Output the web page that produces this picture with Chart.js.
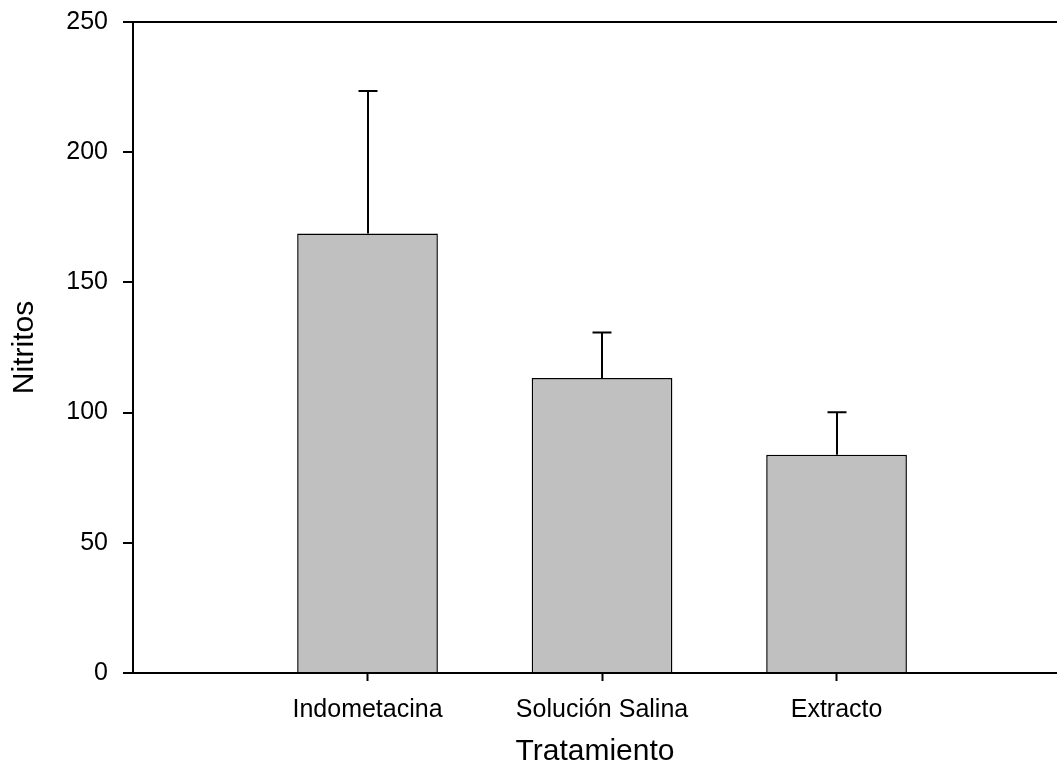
<!DOCTYPE html>
<html>
<head>
<meta charset="utf-8">
<title>Nitritos por tratamiento</title>
<script src="https://cdn.jsdelivr.net/npm/chart.js@4.4.1/dist/chart.umd.min.js"></script>
<style>
  html, body { margin: 0; padding: 0; background: #fff; overflow: hidden; }
  #wrap { width: 1057px; height: 777px; }
</style>
</head>
<body>
<div id="wrap"><canvas id="chart" width="1057" height="777"></canvas></div>
<script>
// data
const categories = ['Indometacina', 'Solución Salina', 'Extracto'];
const positions = [1, 2, 3];
const nitritos = [168.8, 113.3, 83.8];
const errores = [54.7, 17.5, 16.3];
const yTicks = [0, 50, 100, 150, 200, 250];

const FONT = '"Liberation Sans", Arial, Helvetica, sans-serif';

// draws the upper error bars (line + cap) over each bar
const errorBars = {
  id: 'errorBars',
  afterDatasetsDraw(chart) {
    const ctx = chart.ctx;
    const y = chart.scales.y;
    const meta = chart.getDatasetMeta(0);
    ctx.save();
    ctx.strokeStyle = '#000';
    ctx.lineWidth = 2;
    meta.data.forEach((bar, i) => {
      const top = y.getPixelForValue(nitritos[i] + errores[i]);
      const x = Math.round(bar.x);
      ctx.beginPath();
      ctx.moveTo(x, bar.y);
      ctx.lineTo(x, top);
      ctx.moveTo(x - 9.5, top);
      ctx.lineTo(x + 9.5, top);
      ctx.stroke();
    });
    ctx.restore();
  }
};

new Chart(document.getElementById('chart'), {
  type: 'bar',
  data: {
    datasets: [{
      data: positions.map((p, i) => ({ x: p, y: nitritos[i] })),
      backgroundColor: '#c0c0c0',
      borderColor: '#000',
      borderWidth: 1.5,
      barPercentage: 0.6,
      categoryPercentage: 1
    }]
  },
  options: {
    responsive: false,
    animation: false,
    layout: { padding: { top: 22, right: 0, bottom: 0, left: 0 } },
    plugins: {
      legend: { display: false },
      tooltip: { enabled: false }
    },
    scales: {
      x: {
        type: 'linear',
        offset: false,
        min: 0,
        max: 3.94,
        afterBuildTicks: (scale) => { scale.ticks = positions.map(v => ({ value: v })); },
        afterFit: (scale) => { scale.height = 104; scale.paddingLeft = 0; scale.paddingRight = 0; },
        ticks: {
          autoSkip: false,
          maxRotation: 0,
          padding: 14,
          color: '#000',
          font: { family: FONT, size: 25 },
          callback: (v) => categories[positions.indexOf(v)] || ''
        },
        grid: {
          offset: false,
          drawOnChartArea: false,
          drawTicks: true,
          tickLength: 8,
          tickColor: '#000',
          tickWidth: 2
        },
        border: { display: true, color: '#000', width: 2 },
        title: {
          display: true,
          text: 'Tratamiento',
          color: '#000',
          font: { family: FONT, size: 30 },
          padding: { top: 8, bottom: 7 }
        }
      },
      y: {
        min: 0,
        max: 250,
        afterBuildTicks: (scale) => { scale.ticks = yTicks.map(v => ({ value: v })); },
        afterFit: (scale) => { scale.width = 133; scale.paddingTop = 0; scale.paddingBottom = 0; },
        ticks: {
          padding: 15,
          color: '#000',
          font: { family: FONT, size: 25 }
        },
        grid: {
          color: (c) => (c.tick && c.tick.value === 250 ? '#000' : 'rgba(0,0,0,0)'),
          lineWidth: 2,
          drawTicks: true,
          tickLength: 10,
          tickColor: '#000',
          tickWidth: 2
        },
        border: { display: true, color: '#000', width: 2 },
        title: {
          display: true,
          text: 'Nitritos',
          color: '#000',
          font: { family: FONT, size: 30 },
          padding: { top: 7, bottom: 10 }
        }
      }
    }
  },
  plugins: [errorBars]
});
</script>
</body>
</html>
